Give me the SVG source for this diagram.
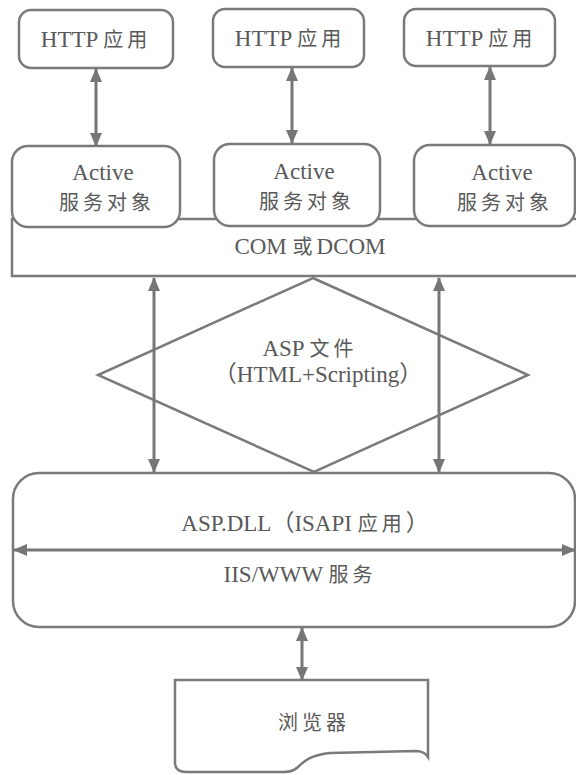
<svg xmlns="http://www.w3.org/2000/svg" width="576" height="775" viewBox="0 0 576 775">
<defs>
<marker id="ah" markerWidth="14" markerHeight="12" refX="13" refY="6" orient="auto-start-reverse" markerUnits="userSpaceOnUse">
<path d="M0,0 L14,6 L0,12 Z" fill="#767676"/>
</marker>
<style>
.box{fill:#fff;stroke:#7a7a7a;stroke-width:2.5}
.ar{fill:none;stroke:#767676;stroke-width:3;marker-start:url(#ah);marker-end:url(#ah)}
.t{font-family:"Liberation Serif","Noto Sans CJK SC",serif;font-size:23px;fill:#595959;text-anchor:middle}
.c{font-family:"Noto Sans CJK SC",sans-serif;font-size:20px;letter-spacing:4px;fill:#595959}
</style>
</defs>
<rect width="576" height="775" fill="#fff"/>
<g id="com">
<rect class="box" x="12" y="219" width="570" height="57"/>
<text class="t" x="310" y="254">COM <tspan class="c">或</tspan>DCOM</text>
</g>
<g id="http1">
<rect class="box" x="19" y="10" width="154" height="58" rx="12"/>
<text class="t" x="96" y="47">HTTP <tspan class="c">应用</tspan></text>
</g>
<g id="http2">
<rect class="box" x="213" y="9" width="151" height="58" rx="12"/>
<text class="t" x="290" y="46">HTTP <tspan class="c">应用</tspan></text>
</g>
<g id="http3">
<rect class="box" x="404" y="9" width="151" height="57" rx="12"/>
<text class="t" x="481" y="46">HTTP <tspan class="c">应用</tspan></text>
</g>
<g id="active1">
<rect class="box" x="12" y="146" width="168" height="81" rx="16"/>
<text class="t" x="103" y="180">Active</text>
<text class="c" x="59" y="210">服务对象</text>
</g>
<g id="active2">
<rect class="box" x="214" y="144" width="166" height="82" rx="16"/>
<text class="t" x="304" y="179">Active</text>
<text class="c" x="259" y="209">服务对象</text>
</g>
<g id="active3">
<rect class="box" x="414" y="145" width="161" height="81" rx="16"/>
<text class="t" x="502" y="180">Active</text>
<text class="c" x="457" y="210">服务对象</text>
</g>
<g id="asp">
<polygon class="box" points="313,278 528,375 314,472 98,375"/>
<text class="t" x="310" y="356">ASP <tspan class="c">文件</tspan></text>
<text class="t" x="318" y="382">（HTML+Scripting）</text>
</g>
<g id="iis">
<rect class="box" x="13" y="473" width="562" height="154" rx="26"/>
<text class="t" x="305" y="531">ASP.DLL（ISAPI <tspan class="c">应用</tspan>）</text>
<text class="t" x="300" y="582">IIS/WWW <tspan class="c">服务</tspan></text>
</g>
<g id="browser">
<path class="box" d="M175,680 H428 V757 Q424,751 416,751 L330,753 C312,755 305,760 298,767 C294,771 290,772 284,772 L186,772 Q176,772 175,764 Z"/>
<text class="c" x="278" y="730">浏览器</text>
</g>
<g id="connectors">
<line class="ar" x1="96" y1="69" x2="96" y2="146"/>
<line class="ar" x1="292" y1="68" x2="292" y2="143"/>
<line class="ar" x1="490" y1="67" x2="490" y2="144"/>
<line class="ar" x1="154" y1="278" x2="154" y2="472"/>
<line class="ar" x1="439" y1="278" x2="439" y2="472"/>
<line class="ar" x1="14" y1="550" x2="575" y2="550"/>
<line class="ar" x1="302" y1="628" x2="302" y2="680"/>
</g>
</svg>
